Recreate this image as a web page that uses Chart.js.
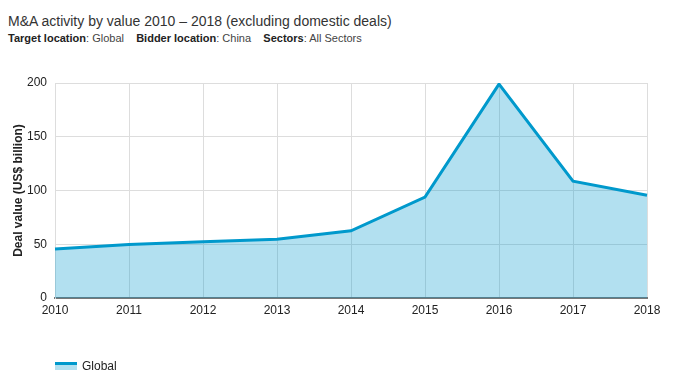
<!DOCTYPE html>
<html><head><meta charset="utf-8">
<script src="https://cdn.jsdelivr.net/npm/chart.js@4"></script>
<style>
html,body{margin:0;padding:0;background:#fff;width:676px;height:381px;overflow:hidden;font-family:"Liberation Sans",Arial,sans-serif;}
#wrap{position:relative;width:676px;height:381px;}
#title{position:absolute;left:8px;top:13px;font-size:14px;color:#333;white-space:nowrap;}
#sub{position:absolute;left:8px;top:32px;font-size:11px;color:#444;white-space:nowrap;}
#sub b{color:#222;}
#legend{position:absolute;left:55px;top:359px;font-size:12px;color:#222;display:flex;align-items:center;}
#mk{width:22px;height:8px;margin-right:5px;display:flex;flex-direction:column;}
#mk .l{height:3px;background:#0099cc;}
#mk .f{height:5px;background:rgba(0,153,204,0.3);}
canvas{position:absolute;left:0;top:0;}
</style></head>
<body><div id="wrap">
<div id="title">M&amp;A activity by value 2010 – 2018 (excluding domestic deals)</div>
<div id="sub"><b>Target location</b>: Global&nbsp;&nbsp;&nbsp;&nbsp;<b>Bidder location</b>: China&nbsp;&nbsp;&nbsp;&nbsp;<b>Sectors</b>: All Sectors</div>
<canvas id="c" width="676" height="381"></canvas>
<div id="legend"><div id="mk"><div class="l"></div><div class="f"></div></div><span id="lgText"></span></div>
</div>
<script>
const years = ["2010","2011","2012","2013","2014","2015","2016","2017","2018"];
const globalValues = [45.6, 49.7, 52.4, 54.6, 62.5, 93.8, 199, 108.6, 95.6];
const seriesName = "Global";
const yTicks = [0, 50, 100, 150, 200];
const yTitle = "Deal value (US$ billion)";

document.getElementById('lgText').textContent = seriesName;

new Chart(document.getElementById('c'), {
  type: 'line',
  data: {
    labels: years,
    datasets: [{
      label: seriesName,
      data: globalValues,
      borderColor: '#0099cc',
      backgroundColor: 'rgba(0,153,204,0.3)',
      borderWidth: 3,
      fill: 'origin',
      pointRadius: 0,
      tension: 0
    }]
  },
  options: {
    responsive: false,
    animation: false,
    layout: { padding: { top: 83, right: 29, bottom: 0, left: 0 } },
    plugins: { legend: { display: false }, tooltip: { enabled: false } },
    scales: {
      x: {
        offset: false,
        grid: { color: '#dddddd', drawTicks: false },
        border: { color: '#777777', width: 2 },
        ticks: { color: '#222', font: { family: 'Liberation Sans', size: 12 }, padding: 5, maxRotation: 0 },
        afterFit: s => { s.height = 83; }
      },
      y: {
        min: 0, max: 200,
        afterBuildTicks: s => { s.ticks = yTicks.map(v => ({ value: v })); },
        grid: { color: '#dddddd', drawTicks: false },
        border: { color: '#dddddd' },
        ticks: { color: '#222', font: { family: 'Liberation Sans', size: 12 }, padding: 8 },
        title: { display: true, text: yTitle, color: '#222', font: { family: 'Liberation Sans', size: 12, weight: 'bold' }, padding: 11 },
        afterFit: s => { s.width = 55; }
      }
    }
  }
});
</script>
</body></html>
